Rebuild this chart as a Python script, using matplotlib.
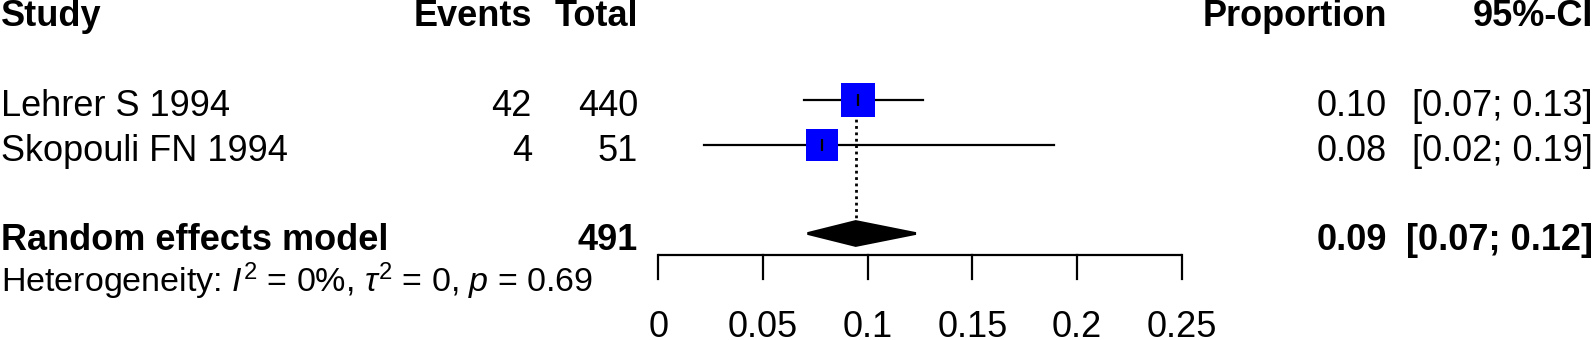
#!/usr/bin/env python3
"""
Forest plot of pooled proportion (meta-style layout)
"""

import matplotlib
matplotlib.use("Agg")
import matplotlib.pyplot as plt
from matplotlib.transforms import blended_transform_factory

# Study data
studies = ['Lehrer S 1994', 'Skopouli FN 1994']
events = [42, 4]
totals = [440, 51]
prop = [0.0955, 0.0784]
ci_lo = [0.0696, 0.0218]
ci_hi = [0.1264, 0.1888]
box_pt = [25, 23]   # square side in points

# Random effects model
re_est = 0.0943
re_lo = 0.0713
re_hi = 0.1230
het_label = r'Heterogeneity: $\mathit{I}^2$ = 0%, $\tau^2$ = 0, $\mathit{p}$ = 0.69'

ticks = [0, 0.05, 0.1, 0.15, 0.2, 0.25]
tick_labels = ['0', '0.05', '0.1', '0.15', '0.2', '0.25']

plt.rcParams['font.family'] = ['Liberation Sans', 'DejaVu Sans']
plt.rcParams['mathtext.fontset'] = 'custom'
plt.rcParams['mathtext.rm'] = 'Liberation Sans'
plt.rcParams['mathtext.it'] = 'Liberation Sans:italic'
plt.rcParams['mathtext.bf'] = 'Liberation Sans:bold'

W, H = 1594, 340
fig = plt.figure(figsize=(W / 100, H / 100), dpi=100)
ax = fig.add_axes([0, 0, 1, 1])

# x: 0 at px 658.3, 0.25 at px 1181.7 ; y: rows, 44.5 px apart
x0_px, px_per_unit = 658.3, 2093.6
ax.set_xlim(-x0_px / px_per_unit, (W - x0_px) / px_per_unit)
row_px, row0_px = 44.5, 100
ax.set_ylim(2 + (H - row0_px) / row_px, 2 + (0 - row0_px) / row_px)
ax.axis('off')

fs = 26
off = 0.37  # baseline offset from row centre
col = blended_transform_factory(fig.transFigure, ax.transData)
x_study, x_ev, x_tot, x_prop, x_ci = 1 / W, 532 / W, 638 / W, 1387 / W, 1593 / W

# header
hdr_row = -0.03
for x, s, ha in [(x_study, 'Study', 'left'), (x_ev, 'Events', 'right'),
                 (x_tot, 'Total', 'right'), (x_prop, 'Proportion', 'right'),
                 (x_ci, '95%-CI', 'right')]:
    ax.text(x, hdr_row + off, s, transform=col, ha=ha, va='baseline',
            fontsize=fs, fontweight='bold')

study_rows = [2, 3]
re_row = 5

# reference line at pooled estimate
ax.plot([re_est, re_est], [study_rows[0], re_row - 0.27], color='black',
        lw=2, linestyle=(0, (1, 1.3)), zorder=1)

for i, r in enumerate(study_rows):
    ax.plot([ci_lo[i], ci_hi[i]], [r, r], color='black', lw=1.6, zorder=2)
    ax.plot(prop[i], r, marker='s', markersize=box_pt[i], color='#0000FF',
            markeredgewidth=0, zorder=3)
    ax.plot(prop[i], r, marker='|', markersize=9, color='black',
            markeredgewidth=1.6, zorder=4)
    ax.text(x_study, r + off, studies[i], transform=col, ha='left',
            va='baseline', fontsize=fs)
    ax.text(x_ev, r + off, str(events[i]), transform=col, ha='right',
            va='baseline', fontsize=fs)
    ax.text(x_tot, r + off, str(totals[i]), transform=col, ha='right',
            va='baseline', fontsize=fs)
    ax.text(x_prop, r + off, f'{prop[i]:.2f}', transform=col, ha='right',
            va='baseline', fontsize=fs)
    ax.text(x_ci, r + off, f'[{ci_lo[i]:.2f}; {ci_hi[i]:.2f}]', transform=col,
            ha='right', va='baseline', fontsize=fs)

# pooled diamond
dh = 0.27
ax.fill([re_lo, re_est, re_hi, re_est], [re_row, re_row - dh, re_row, re_row + dh],
        facecolor='black', edgecolor='black', lw=2, zorder=3)
ax.text(x_study, re_row + off, 'Random effects model', transform=col, ha='left',
        va='baseline', fontsize=fs, fontweight='bold')
ax.text(x_tot, re_row + off, str(sum(totals)), transform=col, ha='right',
        va='baseline', fontsize=fs, fontweight='bold')
ax.text(x_prop, re_row + off, f'{re_est:.2f}', transform=col, ha='right',
        va='baseline', fontsize=fs, fontweight='bold')
ax.text(x_ci, re_row + off, f'[{re_lo:.2f}; {re_hi:.2f}]', transform=col,
        ha='right', va='baseline', fontsize=fs, fontweight='bold')
ax.text(x_study, 6.31, het_label, transform=col, ha='left', va='baseline',
        fontsize=24.5)

# x axis
axis_row, tick_end = 5.48, 6.02
ax.plot([ticks[0], ticks[-1]], [axis_row, axis_row], color='black', lw=1.6,
        solid_capstyle='butt')
for t, lab in zip(ticks, tick_labels):
    ax.plot([t, t], [axis_row, tick_end], color='black', lw=1.6)
    ax.text(t, 7.33, lab, ha='center', va='baseline', fontsize=fs)

fig.savefig('out.png', dpi=100)
